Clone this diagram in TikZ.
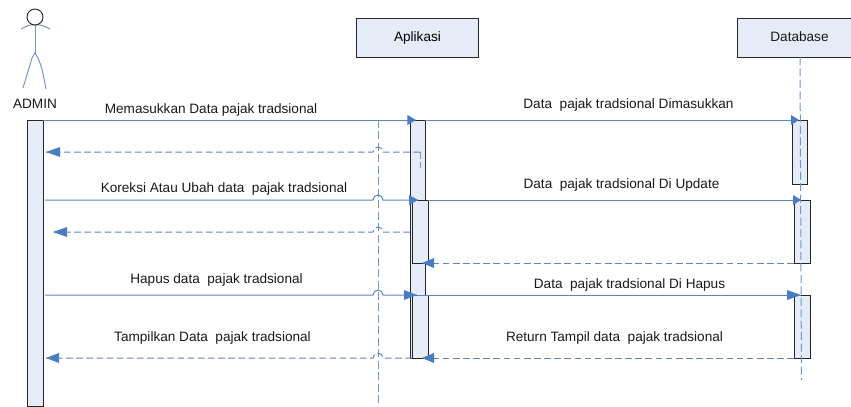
\documentclass[tikz,border=0pt]{standalone}
\usepackage{fontspec}
\setmainfont{Liberation Sans}
\usetikzlibrary{arrows.meta,calc}
\definecolor{lineblue}{HTML}{5B86C4}
\definecolor{palefill}{HTML}{E6ECF7}
\definecolor{headblue}{HTML}{4A7CC4}
\definecolor{lifeblue}{HTML}{6F97CF}
\tikzset{
  objbox/.style={draw=black!85,line width=0.7pt,fill=palefill,inner sep=0pt,font=\fontsize{10.2}{12}\selectfont},
  actbar/.style={draw=black!85,line width=0.7pt,fill=palefill},
  msg/.style={draw=lineblue,line width=0.75pt},
  reply/.style={draw=lineblue,line width=0.75pt,dash pattern=on 5pt off 2.6pt},
  lifeline/.style={draw=lifeblue,line width=0.75pt,dash pattern=on 6pt off 2.6pt},
  tipend/.style={-{Triangle[length=#1,width=7.4pt,fill=headblue,color=headblue]}},
  tipend/.default=6pt,
  actorline/.style={draw=lifeblue,line width=0.75pt},
  lbl/.style={inner sep=0pt,text=black!90,font=\fontsize{10.2}{12}\selectfont}
}
\begin{document}
\begin{tikzpicture}[x=0.75pt,y=-0.75pt]
\useasboundingbox (0,0) rectangle (851,407);
% lifelines first
\coordinate (appTop) at (378,120);
\coordinate (appEnd) at (378,407);
\coordinate (dbEnd) at (801.5,380);
\draw[lifeline] (appTop) -- (appEnd);
% boxes
\node[objbox,minimum width=91.5pt,minimum height=29.25pt,anchor=north west] (app) at (356,18) {Aplikasi};
\fill[palefill] (737,18) rectangle (851,57);
\draw[black!85,line width=0.7pt] (851,18) -- (737,18) -- (737,57) -- (851,57);
\node[inner sep=0,font=\fontsize{10.2}{12}\selectfont,text=black!90] (db) at (799.5,37) {Database};
% actor
\coordinate (head) at (35,17);
\coordinate (neck) at (35,25);
\coordinate (hip) at (35,53);
\coordinate (armL) at (21,29);
\coordinate (armR) at (50,29);
\coordinate (footL) at (23,88);
\coordinate (footR) at (46,89);
\draw[actorline] (neck) -- (hip);
\draw[actorline] (armL) .. controls (27,26) and (30,24) .. (neck) .. controls (40,24) and (44,26) .. (armR);
\draw[actorline] (footL) -- (32,58) -- (hip) -- (38,58) .. controls (42,68) .. (footR);
\draw[black!85,line width=0.7pt,fill=white] (head) circle [radius=8];
\node[lbl] (adminlbl) at (35,104) {ADMIN};
% activation bars
\node[actbar,inner sep=0,minimum width=12pt,minimum height=214.6pt,anchor=north west] (adminbar) at (27,120) {};
\node[actbar,inner sep=0,minimum width=11.25pt,minimum height=178.5pt,anchor=north west] (a1) at (410,120) {};
\node[actbar,inner sep=0,minimum width=12pt,minimum height=47.25pt,anchor=north west] (a2) at (412,200) {};
\node[actbar,inner sep=0,minimum width=12pt,minimum height=47.25pt,anchor=north west] (a3) at (412,295) {};
\node[actbar,inner sep=0,minimum width=11.6pt,minimum height=48pt,anchor=north west] (d1) at (791.5,120) {};
\node[actbar,inner sep=0,minimum width=12pt,minimum height=47.25pt,anchor=north west] (d2) at (794,200) {};
\node[actbar,inner sep=0,minimum width=12pt,minimum height=47.25pt,anchor=north west] (d3) at (794,295) {};
\coordinate (appStub) at (420,152);
\coordinate (appStubEnd) at (420,168);
\draw[reply,lifeblue] (appStub) -- (appStubEnd);
\draw[lifeline] (800,57) -- (dbEnd);
% message end points
\coordinate (m1a) at (43,120); \coordinate (m1b) at (416,120);
\coordinate (m1c) at (425,120); \coordinate (m1d) at (799,120);
\coordinate (m2a) at (420,152); \coordinate (m2b) at (46,152);
\coordinate (m3a) at (45,200); \coordinate (m3b) at (418,200);
\coordinate (m3c) at (428,200); \coordinate (m3d) at (801,200);
\coordinate (m4a) at (410,232); \coordinate (m4b) at (53,232);
\coordinate (m5a) at (794,263); \coordinate (m5b) at (422,263);
\coordinate (m6a) at (45,295); \coordinate (m6b) at (417,295);
\coordinate (m6c) at (417,295); \coordinate (m6d) at (801,295);
\coordinate (m7a) at (794,358); \coordinate (m7b) at (422,358);
\coordinate (m7c) at (412,358); \coordinate (m7d) at (46,358);
% messages
\draw[msg,tipend=6.5pt] (m1a) -- (m1b);
\draw[msg,tipend=6pt] (m1c) -- (m1d);
\draw[reply] (m2a) -- (383,152) arc[start angle=0,end angle=-180,radius=5] -- (m2b);
\fill[headblue] (m2b) -- (60,147) -- (60,157) -- cycle;
\draw[msg] (m3a) -- (373,200) arc[start angle=180,end angle=360,radius=5] -- (m3b);
\fill[headblue] (m3b) -- (409,195) -- (409,205) -- cycle;
\draw[msg,tipend=6pt] (m3c) -- (m3d);
\draw[reply] (m4a) -- (383,232) arc[start angle=0,end angle=-180,radius=5] -- (m4b);
\fill[headblue] (m4b) -- (67,227) -- (67,237) -- cycle;
\draw[reply] (m5a) -- (m5b);
\fill[headblue] (m5b) -- (434,258) -- (434,268) -- cycle;
\draw[msg] (m6a) -- (373,295) arc[start angle=180,end angle=360,radius=5] -- (m6b);
\fill[headblue] (m6b) -- (404,290) -- (404,300) -- cycle;
\draw[msg] (m6c) -- (m6d);
\fill[headblue] (m6d) -- (787,290) -- (787,300) -- cycle;
\draw[reply] (m7a) -- (m7b);
\fill[headblue] (m7b) -- (434,353) -- (434,363) -- cycle;
\draw[reply] (m7c) -- (383,358) arc[start angle=0,end angle=-180,radius=5] -- (m7d);
\fill[headblue] (m7d) -- (59,353) -- (59,363) -- cycle;
% labels
\node[lbl] (l1) at (211,110) {Memasukkan Data pajak tradsional};
\node[lbl] (l2) at (628.5,105) {Data\ \ pajak tradsional Dimasukkan};
\node[lbl] (l3) at (224,189) {Koreksi Atau Ubah data\ \ pajak tradsional};
\node[lbl] (l4) at (621.5,184.5) {Data\ \ pajak tradsional Di Update};
\node[lbl] (l5) at (216.5,280) {Hapus data\ \ pajak tradsional};
\node[lbl] (l6) at (629.5,284.5) {Data\ \ pajak tradsional Di Hapus};
\node[lbl] (l7) at (212.5,338) {Tampilkan Data\ \ pajak tradsional};
\node[lbl] (l8) at (614.5,338) {Return Tampil data\ \ pajak tradsional};
\end{tikzpicture}
\end{document}
